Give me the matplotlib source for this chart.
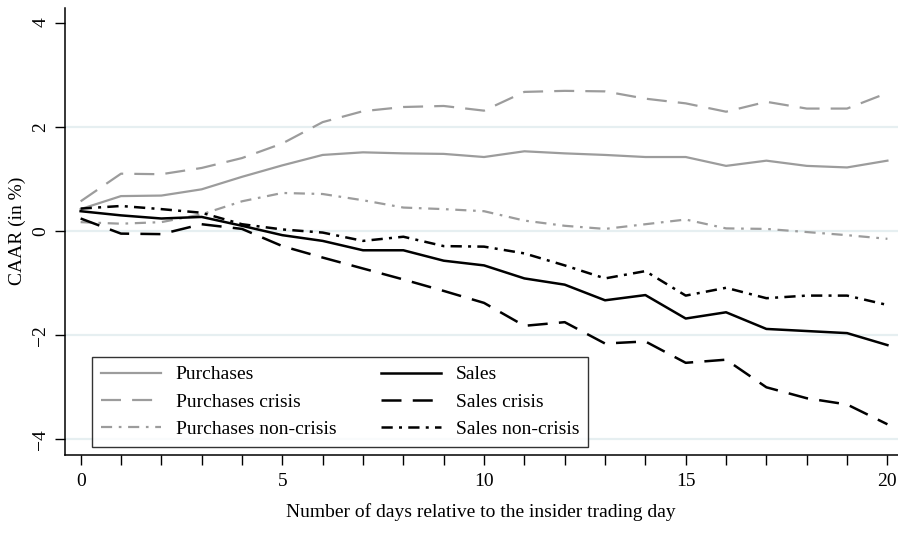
import numpy as np
import matplotlib
matplotlib.use("Agg")
import matplotlib.pyplot as plt

# days relative to insider trading day
days = list(range(0, 21))

purchases = [0.42, 0.67, 0.68, 0.80, 1.04, 1.26, 1.46, 1.51, 1.49, 1.48, 1.42,
             1.53, 1.49, 1.46, 1.42, 1.42, 1.25, 1.35, 1.25, 1.22, 1.35]
purchases_crisis = [0.57, 1.10, 1.09, 1.21, 1.40, 1.68, 2.09, 2.30, 2.38, 2.40, 2.31,
                    2.67, 2.69, 2.68, 2.54, 2.45, 2.29, 2.48, 2.35, 2.35, 2.65]
purchases_noncrisis = [0.17, 0.14, 0.17, 0.32, 0.57, 0.73, 0.71, 0.59, 0.45, 0.42, 0.38,
                       0.20, 0.10, 0.04, 0.13, 0.22, 0.05, 0.04, -0.02, -0.08, -0.15]
sales = [0.38, 0.30, 0.24, 0.27, 0.10, -0.08, -0.19, -0.37, -0.37, -0.57, -0.66,
         -0.91, -1.03, -1.33, -1.23, -1.68, -1.56, -1.88, -1.92, -1.96, -2.19]
sales_crisis = [0.24, -0.05, -0.06, 0.13, 0.04, -0.29, -0.51, -0.72, -0.93, -1.15, -1.38,
                -1.82, -1.75, -2.16, -2.12, -2.53, -2.47, -3.00, -3.21, -3.33, -3.71]
sales_noncrisis = [0.43, 0.48, 0.42, 0.35, 0.13, 0.03, -0.03, -0.19, -0.11, -0.29, -0.30,
                   -0.43, -0.66, -0.91, -0.77, -1.24, -1.09, -1.29, -1.24, -1.24, -1.42]

y_ticks = [-4, -2, 0, 2, 4]
y_tick_labels = ['\u22124', '\u22122', '0', '2', '4']
x_ticks = [0, 5, 10, 15, 20]

plt.rcParams['font.family'] = ['Liberation Serif', 'DejaVu Serif']
plt.rcParams['font.size'] = 14

gray = '#9c9c9c'
black = '#000000'

fig = plt.figure(figsize=(8.98, 5.41), dpi=100)
ax = fig.add_axes([64.5 / 898, 1 - 454.5 / 541, 833 / 898, (454.5 - 7.5) / 541])

# grid lines (Stata style)
for yv in [-4, -2, 0, 2]:
    ax.axhline(yv, color='#e6eff1', linewidth=1.6, zorder=0)

ax.plot(days, purchases, color=gray, linewidth=1.6, label='Purchases')
ax.plot(days, purchases_crisis, color=gray, linewidth=1.6, dashes=(9, 5), label='Purchases crisis')
ax.plot(days, purchases_noncrisis, color=gray, linewidth=1.6, dashes=(5, 3, 1.2, 3),
        label='Purchases non-crisis')
ax.plot(days, sales, color=black, linewidth=1.8, label='Sales')
ax.plot(days, sales_crisis, color=black, linewidth=1.8, dashes=(8, 4.5), label='Sales crisis')
ax.plot(days, sales_noncrisis, color=black, linewidth=1.8, dashes=(4.5, 2.5, 1.2, 2.5),
        label='Sales non-crisis')

ax.set_xlim(-0.4, 20.25)
ax.set_ylim(-4.29, 4.29)
ax.set_xticks(range(0, 21))
ax.set_xticklabels([str(d) if d in x_ticks else '' for d in range(0, 21)])
ax.set_yticks(y_ticks)
ax.set_yticklabels(y_tick_labels, rotation=90, va='center')
ax.tick_params(axis='both', direction='out', length=7, width=1, colors='black')
ax.tick_params(axis='x', pad=6)
ax.tick_params(axis='y', pad=4)

ax.spines['top'].set_visible(False)
ax.spines['right'].set_visible(False)
ax.spines['left'].set_linewidth(1.1)
ax.spines['bottom'].set_linewidth(1.1)

ax.set_ylabel('CAAR (in %)')
ax.yaxis.set_label_coords((26 - 64.5) / 833, 0.5)
ax.set_xlabel('Number of days relative to the insider trading day', labelpad=10)

handles, labels = ax.get_legend_handles_labels()
leg = ax.legend(handles, labels, ncol=2, loc='upper left',
                bbox_to_anchor=(92 / 898, 1 - 357 / 541), bbox_transform=fig.transFigure,
                borderaxespad=0, frameon=True, fancybox=False, edgecolor='black',
                handlelength=3.1, handletextpad=0.75, columnspacing=2.3,
                labelspacing=0.5, borderpad=0.45)
leg.get_frame().set_linewidth(1.0)

fig.savefig('out.png', dpi=100)
